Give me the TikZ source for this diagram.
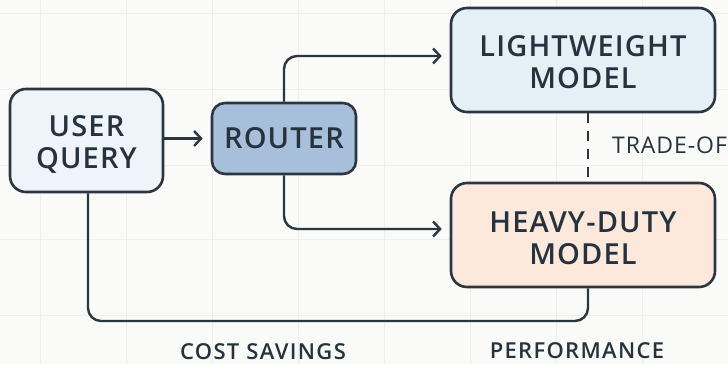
\documentclass[tikz,border=0pt]{standalone}
\usepackage{fontspec}
\setmainfont{Open Sans}
\newfontfamily\boxfont{Open Sans Semibold}[LetterSpace=4]
\newfontfamily\capfont{Open Sans Semibold}[LetterSpace=6]
\newfontfamily\notefont{Open Sans}[LetterSpace=4]
\usetikzlibrary{arrows.meta,calc}
\definecolor{ink}{HTML}{26333F}
\definecolor{edge}{HTML}{2C3640}
\definecolor{paper}{HTML}{FAFAF8}
\definecolor{gridc}{HTML}{EEEEEA}
\definecolor{queryfill}{HTML}{EEF4F9}
\definecolor{routerfill}{HTML}{A8BFDB}
\definecolor{lightfill}{HTML}{E5EFF6}
\definecolor{heavyfill}{HTML}{FCE9DC}
\tikzset{
  box/.style={draw=edge, line width=2.6pt, rounded corners=16pt, inner sep=0pt},
  boxtext/.style={text=ink, align=center, inner sep=0pt,
    font=\boxfont\fontsize{29}{32}\selectfont},
  link/.style={draw=edge, line width=2.4pt, rounded corners=13pt},
  arrow/.style={link, -{Straight Barb[length=7pt,width=15pt,line width=2.4pt]}, shorten >=8pt},
  caption/.style={text=ink, font=\capfont\fontsize{22}{24}\selectfont, inner sep=0pt},
  note/.style={text=ink, font=\notefont\fontsize{23}{26}\selectfont, inner sep=0pt, anchor=base west}
}
\begin{document}
\begin{tikzpicture}[x=1pt, y=-1pt]
  % canvas and faint grid
  \fill[paper] (0,0) rectangle (728,364);
  \useasboundingbox (0,0) rectangle (728,364);
  \foreach \gx in {40,126,212,298,384,470,556,642,728}
    \draw[gridc, line width=0.8pt] (\gx,0) -- (\gx,364);
  \foreach \gy in {13,89,165,239,315}
    \draw[gridc, line width=0.8pt] (0,\gy) -- (728,\gy);

  % boxes
  \node[box, fill=queryfill, minimum width=153pt, minimum height=103pt]
    (query) at (86.5,140.5) {};
  \node[box, fill=routerfill, rounded corners=13pt, minimum width=144pt, minimum height=71pt]
    (router) at (284,138.5) {};
  \node[box, fill=lightfill, minimum width=264pt, minimum height=104pt]
    (light) at (583,60) {};
  \node[box, fill=heavyfill, minimum width=264pt, minimum height=104pt]
    (heavy) at (583,235) {};

  % box texts
  \node[boxtext] (querytext) at ([yshift=-4pt]query.center) {USER\\QUERY};
  \node[boxtext] (routertext) at ([yshift=0pt]router.center) {ROUTER};
  \node[boxtext] (lighttext) at ([yshift=-2pt]light.center) {LIGHTWEIGHT\\MODEL};
  \node[boxtext] (heavytext) at ([yshift=-3pt]heavy.center) {HEAVY-DUTY\\MODEL};

  % labels
  \node[note] (trade) at (612,153) {TRADE-OF};
  \node[caption] (cost) at (263,352) {COST SAVINGS};
  \node[caption] (perf) at (577,351) {PERFORMANCE};

  % connectors
  \coordinate (lightin) at ($(light.west)+(0,-4)$);
  \coordinate (heavyin) at ($(heavy.west)+(0,-6)$);
  \coordinate (bottom) at (0,321);
  \coordinate (tie) at (588,0);
  \draw[arrow, rounded corners=0pt] (query.east |- router.west) -- (router.west);
  \draw[arrow] (router.north) |- (lightin);
  \draw[arrow] (router.south) |- (heavyin);
  \draw[edge, line width=2.4pt, dash pattern=on 10pt off 8pt] (light.south -| tie) -- (heavy.north -| tie);
  \draw[link] (query.south -| 88,0) |- (bottom -| tie) -- (heavy.south -| tie);
\end{tikzpicture}
\end{document}
